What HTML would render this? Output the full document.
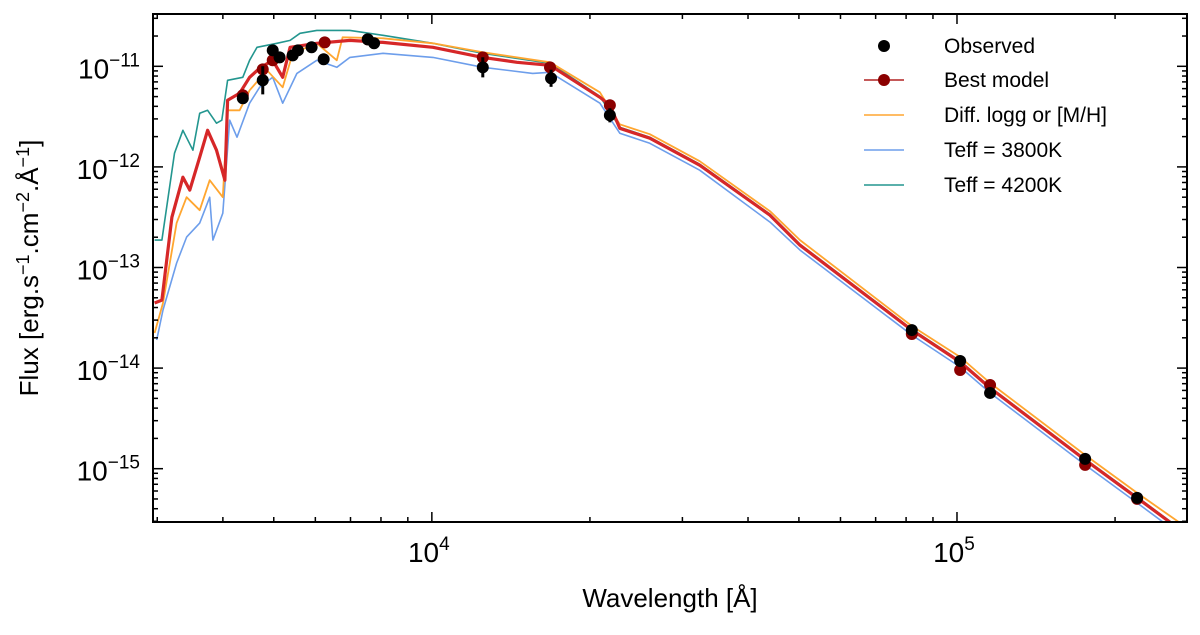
<!DOCTYPE html>
<html><head><meta charset="utf-8"><style>
body{margin:0;background:#fff;font-family:"Liberation Sans","DejaVu Sans",sans-serif}
svg text{font-family:"Liberation Sans","DejaVu Sans",sans-serif}
</style></head><body>
<svg id="chart" width="1200" height="630" viewBox="0 0 1200 630" xmlns="http://www.w3.org/2000/svg"></svg>
<script>
// data: log10 wavelength (Å) and log10 flux
const redLogW=[3.472,3.486,3.505,3.526,3.539,3.558,3.573,3.590,3.606,3.611,3.634,3.653,3.672,3.697,3.716,3.730,3.781,3.844,3.907,4.002,4.097,4.162,4.225,4.320,4.339,4.358,4.415,4.510,4.644,4.701,4.914,5.006,5.063,5.244,5.343,5.438];
const redLogF=[-13.353,-13.324,-12.500,-12.102,-12.231,-11.904,-11.636,-11.834,-12.132,-11.338,-11.268,-11.109,-11.020,-10.940,-11.109,-10.811,-10.771,-10.742,-10.762,-10.811,-10.911,-10.960,-10.990,-11.308,-11.387,-11.616,-11.715,-11.983,-12.480,-12.778,-13.622,-13.939,-14.198,-14.913,-15.290,-15.657];
const tealLogW=[3.472,3.486,3.510,3.526,3.545,3.558,3.573,3.590,3.600,3.611,3.640,3.653,3.667,3.705,3.730,3.749,3.781,3.844,3.907,4.002,4.097,4.225,4.320,4.358,4.415,4.510,4.644,4.701,4.914,5.006,5.063,5.244,5.343,5.438];
const tealLogF=[-12.728,-12.728,-11.864,-11.636,-11.834,-11.467,-11.437,-11.566,-11.536,-11.139,-11.109,-10.940,-10.811,-10.771,-10.742,-10.672,-10.643,-10.643,-10.692,-10.771,-10.871,-10.970,-11.298,-11.606,-11.705,-11.973,-12.470,-12.768,-13.612,-13.929,-14.188,-14.903,-15.280,-15.647];
const blueLogW=[3.476,3.488,3.514,3.533,3.558,3.577,3.583,3.602,3.615,3.629,3.653,3.672,3.697,3.716,3.743,3.781,3.819,3.844,3.907,4.002,4.097,4.192,4.225,4.320,4.358,4.415,4.510,4.644,4.701,4.914,5.006,5.063,5.244,5.343,5.438];
const blueLogF=[-13.721,-13.423,-12.956,-12.698,-12.559,-12.301,-12.728,-12.460,-11.536,-11.705,-11.367,-11.209,-11.109,-11.367,-11.070,-10.940,-11.010,-10.911,-10.871,-10.911,-11.010,-11.070,-11.060,-11.367,-11.665,-11.765,-12.033,-12.549,-12.827,-13.671,-13.989,-14.247,-14.962,-15.340,-15.707];
const orangeLogW=[3.472,3.488,3.514,3.533,3.558,3.577,3.602,3.611,3.634,3.653,3.686,3.716,3.735,3.781,3.819,3.830,3.907,4.002,4.097,4.225,4.320,4.358,4.415,4.510,4.644,4.701,4.914,5.006,5.063,5.244,5.343,5.438];
const orangeLogF=[-13.651,-13.353,-12.559,-12.301,-12.430,-12.132,-12.301,-11.437,-11.437,-11.238,-11.040,-11.209,-10.871,-10.771,-10.940,-10.712,-10.722,-10.771,-10.861,-10.960,-11.258,-11.576,-11.675,-11.943,-12.440,-12.728,-13.582,-13.890,-14.148,-14.864,-15.241,-15.588];
const obsLogW=[3.640,3.678,3.697,3.710,3.735,3.745,3.771,3.794,3.878,3.890,4.097,4.227,4.339,4.914,5.006,5.063,5.244,5.343];
const obsLogF=[-11.318,-11.139,-10.841,-10.911,-10.891,-10.841,-10.811,-10.930,-10.732,-10.771,-11.010,-11.119,-11.487,-13.622,-13.929,-14.247,-14.903,-15.290];
const obsErr=[0.02,0.14,0.02,0.02,0.02,0.02,0.02,0.02,0.02,0.02,0.10,0.085,0.07,0.02,0.02,0.02,0.02,0.02];
const bestLogW=[3.640,3.678,3.697,3.796,3.878,4.097,4.225,4.339,4.914,5.006,5.063,5.244,5.343];
const bestLogF=[-11.288,-11.030,-10.940,-10.762,-10.732,-10.911,-11.010,-11.387,-13.661,-14.019,-14.168,-14.962,-15.300];
const xTickExp=[4,5];
const yTickExp=[-11,-12,-13,-14,-15];

const NS='http://www.w3.org/2000/svg';
const svg=document.getElementById('chart');
const L=153,R=1187,T=14,B=522;
const xMin=3.469,xMax=5.438,yMin=-15.53,yMax=-10.48;
function X(lw){return L+(lw-xMin)/(xMax-xMin)*(R-L);}
function Y(lf){return T+(yMax-lf)/(yMax-yMin)*(B-T);}
function el(tag,attrs,parent){const e=document.createElementNS(NS,tag);for(const k in attrs)e.setAttribute(k,attrs[k]);(parent||svg).appendChild(e);return e;}

const clip=el('clipPath',{id:'pc'});el('rect',{x:L,y:T,width:R-L,height:B-T},clip);
const plot=el('g',{'clip-path':'url(#pc)'});



function line(w,f,color,width,name){
  const d=w.map((v,i)=>(i?'L':'M')+X(v).toFixed(1)+' '+Y(f[i]).toFixed(1)).join(' ');
  const p=el('path',{d:d,fill:'none',stroke:color,'stroke-width':width,'stroke-linejoin':'round'},plot);
  
  
}
line(tealLogW,tealLogF,'#23968f',1.6,'teff-4200k-spectrum');
line(blueLogW,blueLogF,'#6d9eeb',1.6,'teff-3800k-spectrum');
line(orangeLogW,orangeLogF,'#ffa630',1.8,'diff-logg-spectrum');
line(redLogW,redLogF,'#d62728',3.2,'best-model-spectrum');

bestLogW.forEach((w,i)=>{
  const c=el('circle',{cx:X(w),cy:Y(bestLogF[i]),r:6,fill:'#8b0000'},plot);
  
  
});
obsLogW.forEach((w,i)=>{
  const l=el('line',{x1:X(w),x2:X(w),y1:Y(obsLogF[i]+obsErr[i]),y2:Y(obsLogF[i]-obsErr[i]),stroke:'#000','stroke-width':3},plot);
  
  
  const c=el('circle',{cx:X(w),cy:Y(obsLogF[i]),r:6,fill:'#000'},plot);
  
  
});

const frame=el('rect',{x:L,y:T,width:R-L,height:B-T,fill:'none',stroke:'#000','stroke-width':2});


const ticks=el('g',{stroke:'#000','stroke-width':1.5});


for(let e=3;e<=5;e++){for(let m=1;m<10;m++){const lw=e+Math.log10(m);if(lw<xMin||lw>xMax)continue;const x=X(lw),len=m===1?10:5;
  el('line',{x1:x,x2:x,y1:B,y2:B-len},ticks);el('line',{x1:x,x2:x,y1:T,y2:T+len},ticks);}}
for(let e=-16;e<=-11;e++){for(let m=1;m<10;m++){const lf=e+Math.log10(m);if(lf<yMin||lf>yMax)continue;const y=Y(lf),len=m===1?10:5;
  el('line',{x1:L,x2:L+len,y1:y,y2:y},ticks);el('line',{x1:R,x2:R-len,y1:y,y2:y},ticks);}}
xTickExp.forEach(e=>{
  const t=el('text',{x:X(e)-3,y:562,'font-size':28,'text-anchor':'middle'});
  
  
  t.innerHTML='10<tspan dy="-12" font-size="19">'+e+'</tspan>';
});
yTickExp.forEach(e=>{
  const t=el('text',{x:140,y:Y(e)+12,'font-size':28,'text-anchor':'end'});
  
  
  t.innerHTML='10<tspan dy="-12" font-size="19">\u2212'+(-e)+'</tspan>';
});
const xl=el('text',{x:670,y:607,'font-size':26,'text-anchor':'middle'});


xl.textContent='Wavelength [Å]';
const yl=el('text',{x:0,y:0,'font-size':26,'text-anchor':'middle',transform:'translate(38,268) rotate(-90)'});


yl.innerHTML='Flux [erg.s<tspan dy="-9" font-size="18">\u22121</tspan><tspan dy="9">.cm</tspan><tspan dy="-9" font-size="18">\u22122</tspan><tspan dy="9">.Å</tspan><tspan dy="-9" font-size="18">\u22121</tspan><tspan dy="9">]</tspan>';

const leg=el('g',{});


const entries=[['Observed',46,'obs'],['Best model',80,'best'],['Diff. logg or [M/H]',115,'#ffa630'],['Teff = 3800K',150,'#6d9eeb'],['Teff = 4200K',185,'#23968f']];
entries.forEach(en=>{
  const g=el('g',{},leg);
  
  
  const y=en[1];
  if(en[2]==='obs'){el('circle',{cx:884,cy:y,r:6,fill:'#000'},g);}
  else if(en[2]==='best'){el('line',{x1:864,x2:904,y1:y,y2:y,stroke:'#b22222','stroke-width':1.5},g);el('circle',{cx:884,cy:y,r:6,fill:'#8b0000'},g);}
  else el('line',{x1:864,x2:904,y1:y,y2:y,stroke:en[2],'stroke-width':1.6},g);
  const t=el('text',{x:944,y:y+7,'font-size':21},g);t.textContent=en[0];
});
</script>
</body></html>
